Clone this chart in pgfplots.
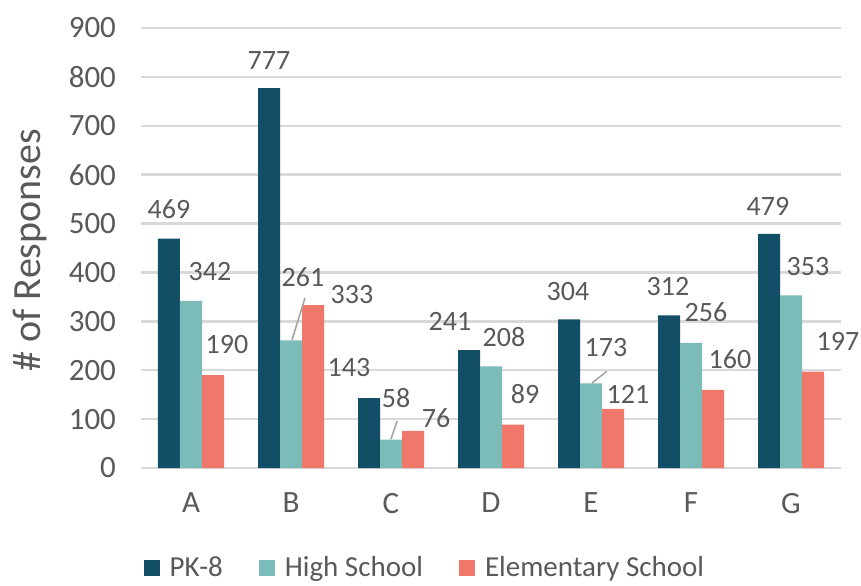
\documentclass[border=0pt]{standalone}
\usepackage{fontspec}
\setmainfont{Carlito}
\usepackage{pgfplots}
\pgfplotsset{compat=1.18}
\definecolor{pk}{HTML}{124E66}
\definecolor{hs}{HTML}{7BBCB8}
\definecolor{es}{HTML}{F0786A}
\definecolor{txt}{HTML}{595959}
\definecolor{grd}{HTML}{D9D9D9}
\definecolor{lead}{HTML}{A6A6A6}
\begin{document}
\begin{tikzpicture}
\path[use as bounding box] (-70.5pt,-58.5pt) rectangle (360pt,234pt);
\begin{axis}[
  at={(0pt,0pt)}, anchor=south west,
  scale only axis, width=350pt, height=220pt,
  ybar=0pt, bar width=11pt,
  xmin=-0.5, xmax=6.5, ymin=0, ymax=900,
  xtick={0,1,2,3,4,5,6},
  xticklabels={A,B,C,D,E,F,G},
  ytick={0,100,...,900},
  ymajorgrids, grid style={grd, line width=1.2pt},
  axis line style={draw=none},
  axis x line*=bottom, axis y line*=left,
  major tick length=0pt,
  /pgf/number format/assume math mode=true,
  tick label style={font=\fontsize{15.5}{18}\selectfont, text=txt},
  yticklabel style={xshift=-9pt},
  xticklabel style={yshift=-9pt},
  ylabel={\# of Responses},
  ylabel style={font=\fontsize{20}{24}\selectfont, text=txt, at={(axis description cs:-0.159,0.495)}, anchor=center},
  clip=false,
  legend columns=3,
  legend style={draw=none, fill=none, at={(axis description cs:0.407,-0.227)}, anchor=center,
    font=\fontsize{14.5}{17}\selectfont, text=txt,
    /tikz/every odd column/.append style={column sep=3pt},
    /tikz/every even column/.append style={column sep=16pt}},
  legend image code/.code={\fill[#1] (0pt,-4pt) rectangle (8pt,4pt);},
]
\draw[grd, line width=1.2pt] (axis cs:-0.5,0) -- (axis cs:6.5,0);
\addplot[fill=pk, draw=none] coordinates {(0,469) (1,777) (2,143) (3,241) (4,304) (5,312) (6,479)};
\addplot[fill=hs, draw=none] coordinates {(0,342) (1,261) (2,58) (3,208) (4,173) (5,256) (6,353)};
\addplot[fill=es, draw=none] coordinates {(0,190) (1,333) (2,76) (3,89) (4,121) (5,160) (6,197)};
\legend{PK-8, High School, Elementary School}
\draw[lead, line width=0.8pt] (axis cs:1.14,348) -- (axis cs:1.01,262);
\draw[lead, line width=0.8pt] (axis cs:2.06,96) -- (axis cs:2.00,59);
\draw[lead, line width=0.8pt] (axis cs:4.16,198) -- (axis cs:4.01,174);
\begin{scope}[every node/.style={font=\fontsize{14}{17}\selectfont, text=txt, inner sep=0pt}]
\node at (axis cs:-0.22,530) {469};
\node at (axis cs:0.19,401) {342};
\node at (axis cs:0.36,252) {190};
\node at (axis cs:0.78,834) {777};
\node at (axis cs:1.12,391) {261};
\node at (axis cs:1.61,354) {333};
\node at (axis cs:1.58,205) {143};
\node at (axis cs:2.05,143) {58};
\node at (axis cs:2.45,102) {76};
\node at (axis cs:2.59,299) {241};
\node at (axis cs:3.13,268) {208};
\node at (axis cs:3.34,151) {89};
\node at (axis cs:3.77,362) {304};
\node at (axis cs:4.15,247) {173};
\node at (axis cs:4.37,151) {121};
\node at (axis cs:4.77,372) {312};
\node at (axis cs:5.15,319) {256};
\node at (axis cs:5.39,223) {160};
\node at (axis cs:5.77,536) {479};
\node at (axis cs:6.17,413) {353};
\node at (axis cs:6.47,258) {197};
\end{scope}
\end{axis}
\end{tikzpicture}
\end{document}
